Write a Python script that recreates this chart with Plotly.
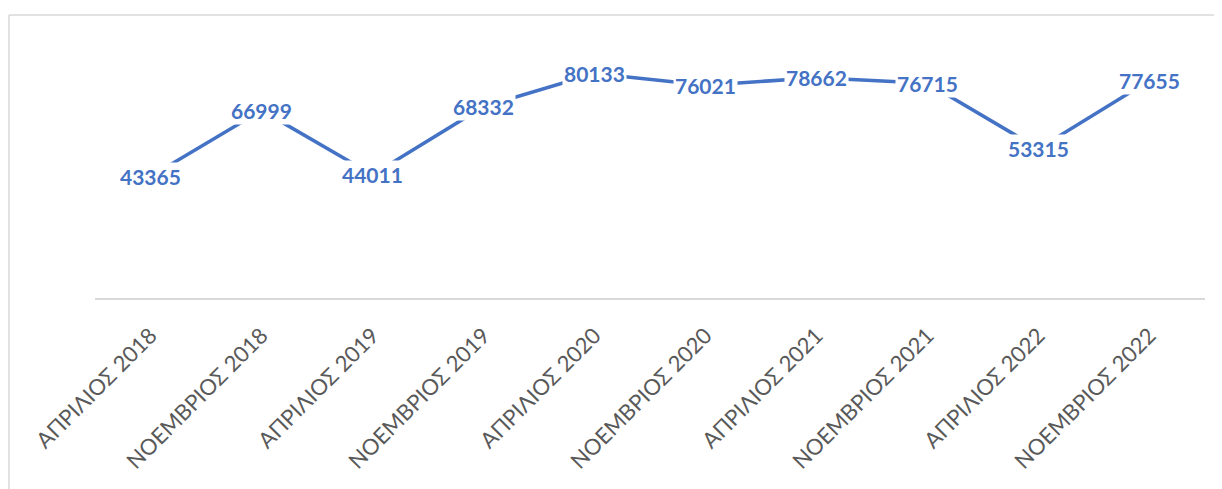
import plotly.graph_objects as go

# --- data --------------------------------------------------------------
periods = [
    "ΑΠΡΙΛΙΟΣ 2018", "ΝΟΕΜΒΡΙΟΣ 2018",
    "ΑΠΡΙΛΙΟΣ 2019", "ΝΟΕΜΒΡΙΟΣ 2019",
    "ΑΠΡΙΛΙΟΣ 2020", "ΝΟΕΜΒΡΙΟΣ 2020",
    "ΑΠΡΙΛΙΟΣ 2021", "ΝΟΕΜΒΡΙΟΣ 2021",
    "ΑΠΡΙΛΙΟΣ 2022", "ΝΟΕΜΒΡΙΟΣ 2022",
]
values = [43365, 66999, 44011, 68332, 80133, 76021, 78662, 76715, 53315, 77655]

BLUE = "#4472C4"
GRID = "#D9D9D9"
TICK = "#595959"
FONT = "Lato"

fig = go.Figure()
fig.add_scatter(
    x=periods,
    y=values,
    mode="lines",
    line=dict(color=BLUE, width=3.5),
    hoverinfo="skip",
)

# data labels sit centred on the points with a white box, like Excel
for p, v in zip(periods, values):
    fig.add_annotation(
        x=p, y=v, text=f"<b>{v}</b>", showarrow=False,
        font=dict(family=FONT, size=21, color=BLUE),
        bgcolor="white", borderpad=1,
    )

# chart-area border (top and left edges visible in the crop)
fig.add_shape(type="line", xref="paper", yref="paper",
              x0=-0.0775, x1=1.2, y0=1.123, y1=1.123,
              line=dict(color=GRID, width=1.5))
fig.add_shape(type="line", xref="paper", yref="paper",
              x0=-0.0775, x1=-0.0775, y0=1.123, y1=-1.0,
              line=dict(color=GRID, width=1.5))

# the page body adds an 8px margin, so the figure is 8px smaller each way
fig.update_layout(
    width=1214,
    height=481,
    margin=dict(l=87, r=17, t=38, b=191, autoexpand=False),
    plot_bgcolor="white",
    paper_bgcolor="white",
    showlegend=False,
    xaxis=dict(
        type="category",
        range=[-0.5, len(periods) - 0.5],
        automargin=False,
        showgrid=False,
        showline=True,
        linecolor=GRID,
        linewidth=2,
        ticks="",
        tickangle=-45,
        tickfont=dict(family=FONT, size=22, color=TICK),
        ticklabelstandoff=14,
    ),
    yaxis=dict(
        automargin=False,
        range=[0, 90000],
        showgrid=False,
        zeroline=False,
        showticklabels=False,
        showline=False,
    ),
)

fig.write_html("out.html")
